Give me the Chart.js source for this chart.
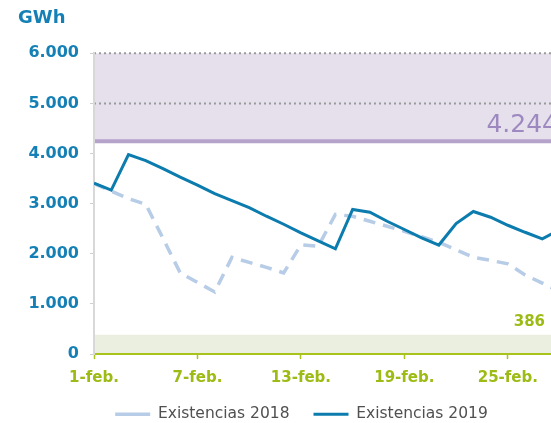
<!DOCTYPE html>
<html><head><meta charset="utf-8">
<script src="https://cdn.jsdelivr.net/npm/chart.js@4.4.1/dist/chart.umd.min.js"></script>
<style>html,body{margin:0;padding:0;overflow:hidden;background:#fff}#wrap{width:605px;height:432px}</style>
</head><body><div id="wrap"><canvas id="c" width="605" height="432"></canvas></div>
<script>
const categories = ['1-feb.','2-feb.','3-feb.','4-feb.','5-feb.','6-feb.','7-feb.','8-feb.','9-feb.','10-feb.','11-feb.','12-feb.','13-feb.','14-feb.','15-feb.','16-feb.','17-feb.','18-feb.','19-feb.','20-feb.','21-feb.','22-feb.','23-feb.','24-feb.','25-feb.','26-feb.','27-feb.','28-feb.'];
const days = [1,2,3,4,5,6,7,8,9,10,11,12,13,14,15,16,17,18,19,20,21,22,23,24,25,26,27,28];
const exist2018 = [3400,3250,3100,2990,2310,1620,1430,1240,1930,1830,1730,1620,2180,2150,2785,2750,2650,2550,2450,2340,2230,2080,1930,1870,1800,1580,1415,1250];
const exist2019 = [3410,3270,3980,3860,3700,3530,3370,3200,3060,2920,2750,2590,2420,2260,2100,2885,2830,2650,2485,2320,2175,2605,2845,2730,2570,2430,2300,2480];
const xTickDays = [1,7,13,19,25];
const yTickValues = [0,1000,2000,3000,4000,5000,6000];
const upperBand = [4244, 6000];
const lowerBand = [0, 386];
const dottedLevels = [5000, 6000];
const upperLabel = '4.244';
const lowerLabel = '386';
const unitLabel = 'GWh';
const seriesNames = ['Existencias 2018','Existencias 2019'];

const FONT = "'DejaVu Sans', Verdana, sans-serif";
const fmt = v => String(v).replace(/\B(?=(\d{3})+(?!\d))/g, '.');
const toPoints = arr => arr.map((v, i) => ({x: days[i], y: v}));

const bandsPlugin = {
  id: 'bands',
  beforeDraw(chart) {
    const {ctx, chartArea: a, scales: {y}} = chart;
    ctx.save();
    let t = y.getPixelForValue(upperBand[1]), b = y.getPixelForValue(upperBand[0]);
    ctx.fillStyle = '#e5e0ec';
    ctx.fillRect(a.left, t, a.right - a.left, b - t);
    t = y.getPixelForValue(lowerBand[1]); b = y.getPixelForValue(lowerBand[0]);
    ctx.fillStyle = '#ebefdf';
    ctx.fillRect(a.left, t, a.right - a.left, b - t);
    ctx.setLineDash([2,3]);
    ctx.lineWidth = 2;
    ctx.strokeStyle = '#9a9a9a';
    dottedLevels.forEach(v => {
      const py = y.getPixelForValue(v);
      ctx.beginPath(); ctx.moveTo(a.left, py); ctx.lineTo(a.right, py); ctx.stroke();
    });
    ctx.setLineDash([]);
    ctx.lineWidth = 4;
    ctx.strokeStyle = '#b5a3cb';
    const py = y.getPixelForValue(upperBand[0]);
    ctx.beginPath(); ctx.moveTo(a.left, py); ctx.lineTo(a.right, py); ctx.stroke();
    ctx.restore();
  },
  afterDraw(chart) {
    const {ctx, scales: {y}} = chart;
    ctx.save();
    ctx.textBaseline = 'alphabetic';
    ctx.textAlign = 'right';
    ctx.fillStyle = '#9d89c0';
    ctx.font = "25px " + FONT;
    ctx.fillText(upperLabel, 558, y.getPixelForValue(upperBand[0]) - 9);
    ctx.fillStyle = '#9cbb14';
    ctx.font = "bold 15px " + FONT;
    ctx.fillText(lowerLabel, 545, y.getPixelForValue(lowerBand[1]) - 9);
    ctx.textAlign = 'left';
    ctx.fillStyle = '#1580b5';
    ctx.font = "bold 18px " + FONT;
    ctx.fillText(unitLabel, 18, 23);
    ctx.restore();
  }
};

new Chart(document.getElementById('c'), {
  type: 'line',
  data: {
    datasets: [
      {label: seriesNames[0], data: toPoints(exist2018), order: 2, borderColor: '#b7cce6', backgroundColor: '#b7cce6', borderWidth: 3.5, borderDash: [12,8], pointRadius: 0, tension: 0, fill: false},
      {label: seriesNames[1], data: toPoints(exist2019), order: 1, borderColor: '#0b7cad', backgroundColor: '#0b7cad', borderWidth: 3, pointRadius: 0, tension: 0, fill: false}
    ]
  },
  options: {
    responsive: false,
    animation: false,
    layout: {padding: {top: 53.3, left: 0, right: 2, bottom: 0}},
    plugins: {
      tooltip: {enabled: false},
      title: {display: false},
      legend: {
        position: 'bottom',
        labels: {
          usePointStyle: true, pointStyle: 'line', pointStyleWidth: 35,
          padding: 24, color: '#505050',
          font: {family: FONT, size: 15.5},
          sort: (a, b) => a.datasetIndex - b.datasetIndex
        }
      }
    },
    scales: {
      x: {
        type: 'linear',
        min: 1, max: 30.52,
        afterBuildTicks: s => { s.ticks = xTickDays.map(v => ({value: v})); },
        grid: {drawOnChartArea: false, drawTicks: true, tickLength: 5, tickWidth: 1.5, tickColor: '#a8c41c', color: 'rgba(0,0,0,0)'},
        border: {color: '#a8c41c', width: 2},
        ticks: {
          autoSkip: false, maxRotation: 0, padding: 10, color: '#9cbb14',
          font: {family: FONT, size: 15, weight: 'bold'},
          callback: v => categories[days.indexOf(v)]
        },
        afterFit: s => { s.height = 28.4; s._computeLabelArea = () => undefined; }
      },
      y: {
        min: 0, max: 6000,
        afterBuildTicks: s => { s.ticks = yTickValues.map(v => ({value: v})); },
        grid: {drawOnChartArea: false, drawTicks: true, tickLength: 4, tickColor: '#cfcfcf', color: 'rgba(0,0,0,0)'},
        border: {color: '#d8d8d8', width: 2},
        ticks: {padding: 11, color: '#1580b5', font: {family: FONT, size: 16, weight: 'bold'}, callback: v => fmt(v)},
        afterFit: s => { s.width = 94; }
      }
    }
  },
  plugins: [bandsPlugin]
});
</script>
</body></html>
